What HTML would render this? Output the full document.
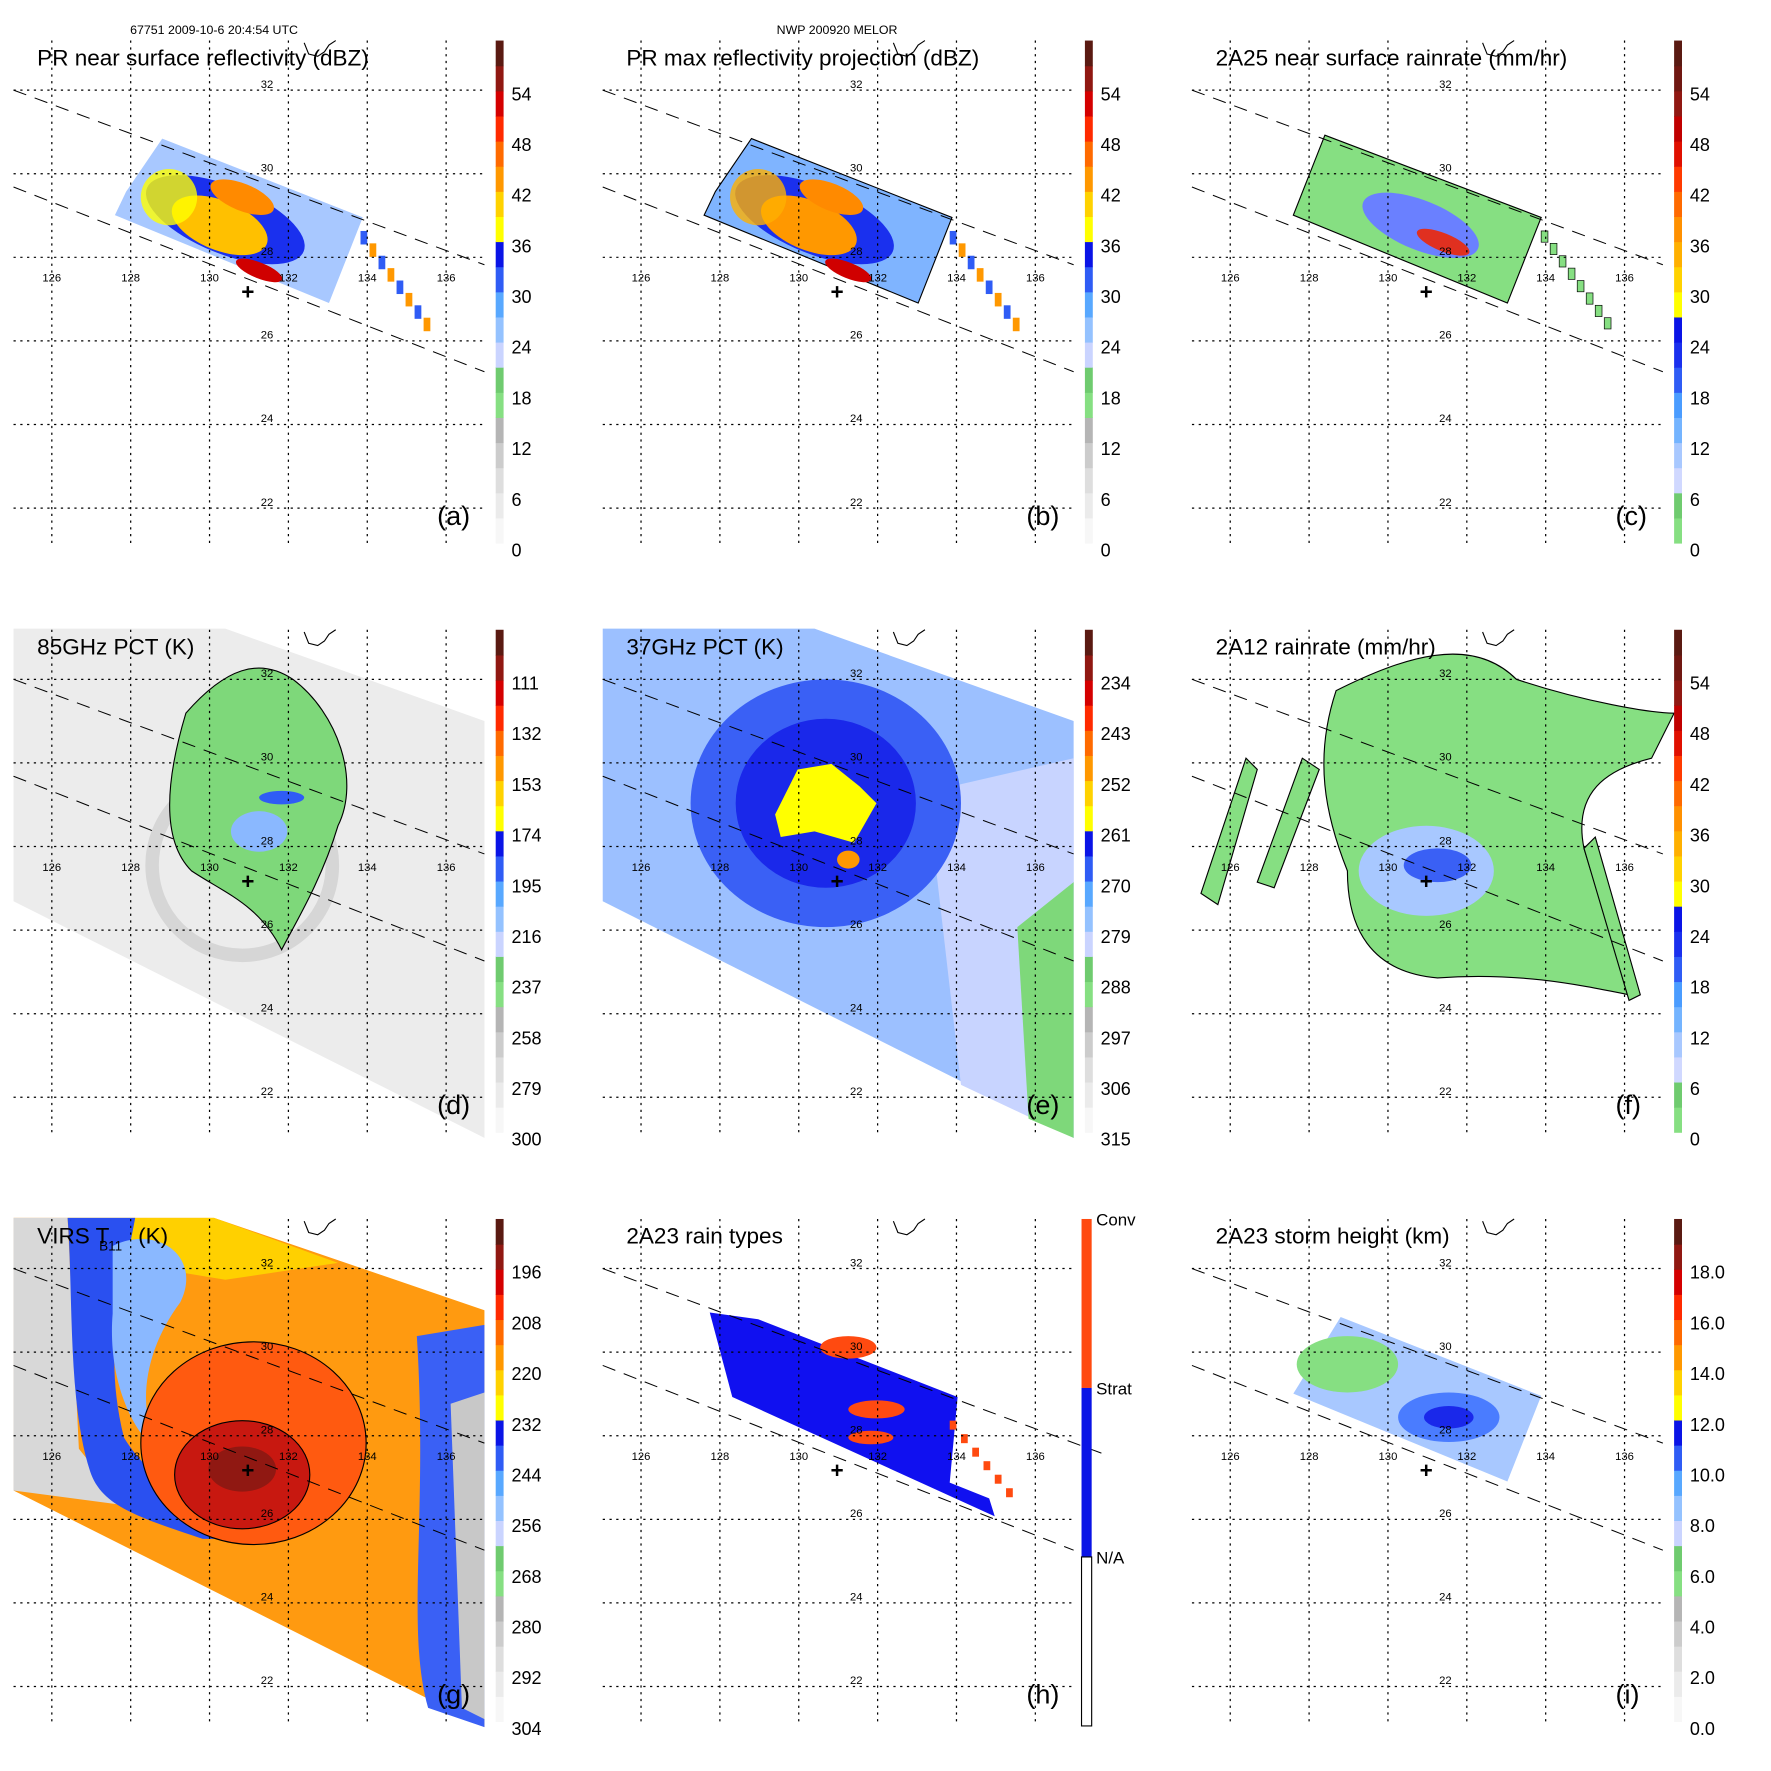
<!DOCTYPE html>
<html><head><meta charset="utf-8"><style>
html,body{margin:0;padding:0;background:#fff;}
svg{display:block;font-family:"Liberation Sans",Arial,sans-serif;}
</style></head><body>
<svg id="fig" width="1771" height="1771" viewBox="0 0 1572 1572" xmlns="http://www.w3.org/2000/svg">
<text x="190" y="30" font-size="11" text-anchor="middle">67751 2009-10-6 20:4:54 UTC</text>
<text x="743" y="30" font-size="11" text-anchor="middle">NWP 200920 MELOR</text>
</svg>
<script>
const NS='http://www.w3.org/2000/svg';
const fig=document.getElementById('fig');
// ---- data arrays ----
const lonLabels=['126','128','130','132','134','136'];
const latLabels=['32','30','28','26','24','22'];
const titles=['PR near surface reflectivity (dBZ)','PR max reflectivity projection (dBZ)','2A25 near surface rainrate (mm/hr)','85GHz PCT (K)','37GHz PCT (K)','2A12 rainrate (mm/hr)','VIRS T\u2009\u2009\u2009\u2009\u2009 (K)','2A23 rain types','2A23 storm height (km)'];
const letters=['(a)','(b)','(c)','(d)','(e)','(f)','(g)','(h)','(i)'];
const ticksA=['54','48','42','36','30','24','18','12','6','0'];
const ticksC=['54','48','42','36','30','24','18','12','6','0'];
const ticksD=['111','132','153','174','195','216','237','258','279','300'];
const ticksE=['234','243','252','261','270','279','288','297','306','315'];
const ticksG=['196','208','220','232','244','256','268','280','292','304'];
const ticksI=['18.0','16.0','14.0','12.0','10.0','8.0','6.0','4.0','2.0','0.0'];
const paletteA=['#f7f7f7','#ebebeb','#dedede','#cccccc','#b5b5b5','#86df82','#6fcb6f','#cad4ff','#94c2ff','#58a8ff','#2f5cf5','#0a14e6','#ffff00','#ffd200','#ff9800','#ff6a00','#ff2a00','#d40000','#901812','#5a1a12'];
const paletteC=['#86df82','#6fcb6f','#d0d8ff','#a8c8ff','#74b4ff','#4a9cff','#2f5cf5','#1a30ee','#0a14e6','#ffff00','#ffd200','#ffb000','#ff9000','#ff6a00','#ff3a00','#e01000','#c00000','#901812','#701812','#5a1a12'];
const panelTicks=[ticksA,ticksA,ticksC,ticksD,ticksE,ticksC,ticksG,null,ticksI];
const panelPal=[paletteA,paletteA,paletteC,paletteA,paletteA,paletteC,paletteA,null,paletteA];
const rainTypes=['Conv','Strat','N/A'];
const rainTypeColors=['#ff4a10','#0a14e6','#ffffff'];

function el(tag,attrs,parent){const e=document.createElementNS(NS,tag);for(const k in attrs)e.setAttribute(k,attrs[k]);(parent||fig).appendChild(e);return e;}
function lonX(i){return 46+35*2*i;}
function latY(j){return 80+74.2*j;}

const swathNarrow='144,123 322,193 292,269 102,191 112,170';
const swathWide='12,35 200,35 430,117 430,487 12,277';

function content(idx,g){
  const c=(tag,a)=>el(tag,a,g);
  let e;
  if(idx===0||idx===1){
    e=c('polygon',{points:swathNarrow,fill:idx?'#7fb4ff':'#a8c8ff',stroke:idx?'#000':'none','stroke-width':1});
    
    c('ellipse',{cx:200,cy:195,rx:75,ry:30,fill:'#1a30ee',transform:'rotate(22 200 195)'});
    c('ellipse',{cx:195,cy:200,rx:45,ry:22,fill:idx?'#ff9800':'#ffc000',transform:'rotate(22 195 200)'});
    c('ellipse',{cx:215,cy:175,rx:30,ry:12,fill:'#ff8a00',transform:'rotate(22 215 175)'});
    c('ellipse',{cx:230,cy:240,rx:22,ry:7,fill:'#d00000',transform:'rotate(22 230 240)'});
    c('ellipse',{cx:150,cy:175,rx:25,ry:25,fill:idx?'#ffb000':'#ffff00',opacity:0.8});
    for(let k=0;k<8;k++){c('rect',{x:320+k*8,y:205+k*11,width:6,height:12,fill:k%2?'#ff9800':'#2f5cf5'});}
  } else if(idx===2){
    e=c('polygon',{points:'130,120 322,193 292,269 102,191',fill:'#86df82',stroke:'#000','stroke-width':1});
    
    c('ellipse',{cx:215,cy:200,rx:55,ry:22,fill:'#6a80ff',transform:'rotate(22 215 200)'});
    c('ellipse',{cx:235,cy:215,rx:25,ry:8,fill:'#e03020',transform:'rotate(22 235 215)'});
    for(let k=0;k<8;k++){c('rect',{x:322+k*8,y:205+k*11,width:6,height:10,fill:'#86df82',stroke:'#000','stroke-width':0.6});}
  } else if(idx===3){
    e=c('polygon',{points:swathWide,fill:'#ececec'});
    
    c('ellipse',{cx:215,cy:245,rx:80,ry:80,fill:'none',stroke:'#d6d6d6','stroke-width':12});
    c('path',{d:'M165,110 C200,70 230,60 260,80 C300,110 320,170 300,210 C285,260 260,300 250,320 C230,280 200,270 170,250 C140,220 150,160 165,110Z',fill:'#7ed87a',stroke:'#000','stroke-width':1});
    c('ellipse',{cx:230,cy:215,rx:25,ry:18,fill:'#8ab8ff'});
    c('ellipse',{cx:250,cy:185,rx:20,ry:6,fill:'#2f5cf5'});
  } else if(idx===4){
    e=c('polygon',{points:swathWide,fill:'#9cc0ff'});
    
    c('polygon',{points:'300,180 430,150 430,487 330,440',fill:'#c8d4ff'});
    c('polygon',{points:'380,300 430,260 430,487 390,470',fill:'#7ed87a'});
    c('ellipse',{cx:210,cy:190,rx:120,ry:110,fill:'#3a60f5'});
    c('ellipse',{cx:210,cy:190,rx:80,ry:75,fill:'#1a28ea'});
    c('path',{d:'M165,200 L185,160 L215,155 L240,175 L255,190 L235,225 L200,215 L170,220Z',fill:'#ffff00'});
    c('ellipse',{cx:230,cy:240,rx:10,ry:8,fill:'#ff9800'});
  } else if(idx===5){
    e=c('path',{d:'M140,90 C200,60 260,40 300,80 C360,100 420,110 440,110 L420,150 C380,160 350,180 360,230 C380,300 400,320 400,360 C350,350 300,340 230,345 C170,340 150,300 150,250 C130,200 120,150 140,90Z',fill:'#86df82',stroke:'#000','stroke-width':1});
    
    c('path',{d:'M20,270 L60,150 L70,160 L35,280Z',fill:'#86df82',stroke:'#000','stroke-width':1});
    c('path',{d:'M70,260 L110,150 L125,160 L85,265Z',fill:'#86df82',stroke:'#000','stroke-width':1});
    c('path',{d:'M370,220 L410,360 L400,365 L360,230Z',fill:'#86df82',stroke:'#000','stroke-width':1});
    c('ellipse',{cx:220,cy:250,rx:60,ry:40,fill:'#a8c8ff'});
    c('ellipse',{cx:230,cy:245,rx:30,ry:15,fill:'#3a60f5'});
  } else if(idx===6){
    e=c('polygon',{points:'12,35 190,35 430,117 430,487 12,277',fill:'#ff9a10'});
    
    c('polygon',{points:'60,35 190,35 300,75 200,90 140,80',fill:'#ffd000'});
    c('polygon',{points:'12,35 60,35 70,240 110,290 12,277',fill:'#d8d8d8'});
    c('path',{d:'M60,35 L120,35 C110,90 90,150 110,230 C140,280 200,300 260,320 L180,320 C120,300 90,290 80,260 C60,200 65,100 60,35 Z',fill:'#2a50f0'});
    c('path',{d:'M100,60 C140,40 180,70 160,110 C130,150 120,200 140,240 C120,230 95,180 100,120Z',fill:'#8ab8ff'});
    c('path',{d:'M370,140 L430,130 L430,487 L380,470 C360,400 380,300 370,140Z',fill:'#3a60f5'});
    c('path',{d:'M400,200 L430,190 L430,480 L410,470Z',fill:'#c8c8c8'});
    c('ellipse',{cx:225,cy:235,rx:100,ry:90,fill:'#ff5a10',stroke:'#000','stroke-width':1});
    c('ellipse',{cx:215,cy:263,rx:60,ry:48,fill:'#c81810',stroke:'#000','stroke-width':1});
    c('ellipse',{cx:215,cy:258,rx:30,ry:20,fill:'#901812'});
  } else if(idx===7){
    e=c('polygon',{points:'107,119 150,125 327,194 360,300 292,269 127,194',fill:'#1010f0'});
    
    c('polygon',{points:'327,194 380,230 370,290 320,270',fill:'#fff'});
    c('ellipse',{cx:230,cy:150,rx:25,ry:10,fill:'#ff4a10'});
    c('ellipse',{cx:255,cy:205,rx:25,ry:8,fill:'#ff4a10'});
    c('ellipse',{cx:250,cy:230,rx:20,ry:6,fill:'#ff4a10'});
    for(let k=0;k<6;k++){c('rect',{x:320+k*10,y:215+k*12,width:6,height:8,fill:'#ff4a10'});}
  } else if(idx===8){
    e=c('polygon',{points:'144,123 322,193 292,269 102,191',fill:'#a8c8ff'});
    
    c('ellipse',{cx:150,cy:165,rx:45,ry:25,fill:'#86df82'});
    c('ellipse',{cx:240,cy:212,rx:45,ry:22,fill:'#4a7cff'});
    c('ellipse',{cx:240,cy:212,rx:22,ry:10,fill:'#1a28ea'});
  }
}

for(let p=0;p<9;p++){
  const ox=(p%3)*523, oy=Math.floor(p/3)*523;
  const g=el('g',{transform:`translate(${ox},${oy})`});
  
  
  content(p,g);
  for(let i=0;i<lonLabels.length;i++){
    const l=el('line',{x1:lonX(i),x2:lonX(i),y1:36,y2:482,stroke:'#000','stroke-width':1.1,'stroke-dasharray':'2,4'},g);
    
    const t=el('text',{x:lonX(i),y:250,'font-size':10,'text-anchor':'middle'},g);t.textContent=lonLabels[i];
    
  }
  for(let j=0;j<latLabels.length;j++){
    const l=el('line',{x1:12,x2:430,y1:latY(j),y2:latY(j),stroke:'#000','stroke-width':1.1,'stroke-dasharray':'2,4'},g);
    
    const t=el('text',{x:237,y:latY(j)-2,'font-size':10,'text-anchor':'middle'},g);t.textContent=latLabels[j];
    
  }
  let d1=el('line',{x1:12,y1:80,x2:p===7?455:430,y2:p===7?244:235,stroke:'#000','stroke-width':0.9,'stroke-dasharray':'12,8'},g);
  
  let d2=el('line',{x1:12,y1:166,x2:430,y2:330,stroke:'#000','stroke-width':0.9,'stroke-dasharray':'12,8'},g);
  
  el('path',{d:'M270,38 L274,48 L282,50 L288,46 L292,40 L298,36',fill:'none',stroke:'#000','stroke-width':1},g);
  const cr=el('text',{x:220,y:266,'font-size':20,'font-weight':'bold','text-anchor':'middle'},g);cr.textContent='+';
  
  const tt=el('text',{x:33,y:58,'font-size':20},g);tt.textContent=titles[p];
  
  if(p===6){const s=el('text',{x:88,y:64,'font-size':12},g);s.textContent='B11';}
  const lt=el('text',{x:388,y:466,'font-size':24},g);lt.textContent=letters[p];
  
  const cb=el('g',{},g);
  
  if(p===7){
    const segH=[150,150,150];let y=36;
    for(let k=0;k<rainTypes.length;k++){
      const r=el('rect',{x:437,y:y,width:9,height:segH[k],fill:rainTypeColors[k],stroke:'#000','stroke-width':k===2?1:0},cb);
      
      const t=el('text',{x:450,y:y+6,'font-size':15},cb);t.textContent=rainTypes[k];
      
      y+=segH[k];
    }
  } else {
    const pal=panelPal[p],tk=panelTicks[p];
    const top=36,bot=482,h=(bot-top)/pal.length;
    for(let k=0;k<pal.length;k++){
      const r=el('rect',{x:440,y:bot-(k+1)*h,width:7,height:h+0.5,fill:pal[k]},cb);
      
    }
    for(let k=0;k<tk.length;k++){
      const y=83+k*45;
      const t=el('text',{x:454,y:y+6,'font-size':16},cb);t.textContent=tk[k];
      
    }
  }
}
</script>
</body></html>
